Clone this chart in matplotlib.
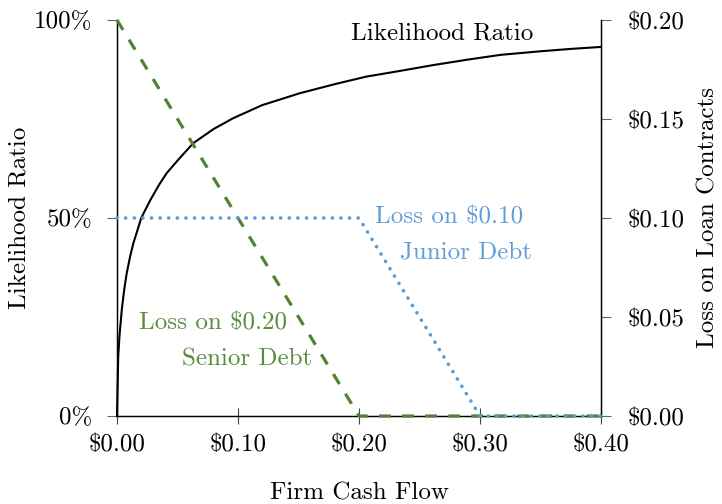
import matplotlib
matplotlib.use("Agg")
import matplotlib.pyplot as plt

plt.rcParams["font.family"] = ["cmr10", "DejaVu Serif"]
plt.rcParams["mathtext.fontset"] = "cm"
plt.rcParams["axes.unicode_minus"] = False
plt.rcParams["lines.scale_dashes"] = False

# Firm cash flow grid and likelihood ratio curve
cash_flow = [0, 0.001, 0.002, 0.004, 0.006, 0.008, 0.011, 0.0135, 0.017, 0.020,
             0.0275, 0.035, 0.041, 0.05, 0.063, 0.08, 0.096, 0.12, 0.151, 0.18,
             0.206, 0.235, 0.261, 0.29, 0.317, 0.35, 0.375, 0.40]
likelihood = [0, 0.15, 0.20, 0.27, 0.32, 0.36, 0.405, 0.436, 0.47, 0.50,
              0.545, 0.585, 0.613, 0.645, 0.689, 0.725, 0.752, 0.785, 0.815, 0.838,
              0.857, 0.872, 0.886, 0.90, 0.912, 0.921, 0.927, 0.932]

# Loss on the loan contracts
senior_x = [0.0, 0.2, 0.4]
senior_loss = [0.20, 0.0, 0.0]
junior_x = [0.0, 0.2, 0.3, 0.4]
junior_loss = [0.10, 0.10, 0.0, 0.0]

x_ticks = [0.0, 0.1, 0.2, 0.3, 0.4]
x_labels = [r"\$0.00", r"\$0.10", r"\$0.20", r"\$0.30", r"\$0.40"]
left_ticks = [0.0, 0.5, 1.0]
left_labels = ["0%", "50%", "100%"]
right_ticks = [0.0, 0.05, 0.10, 0.15, 0.20]
right_labels = [r"\$0.00", r"\$0.05", r"\$0.10", r"\$0.15", r"\$0.20"]

GREEN = "#548235"
GREEN_TEXT = "#5b8c3d"
BLUE = "#5b9bd5"
BLUE_TEXT = "#5f9fd8"
FS = 18

fig = plt.figure(figsize=(7.22, 5.04), dpi=100)
ax = fig.add_axes([117 / 722, 1 - 416 / 504, 484 / 722, 396 / 504])
ax2 = ax.twinx()

ax.plot(cash_flow, likelihood, color="black", lw=1.5, clip_on=False, zorder=3)
ax.set_xlim(0, 0.4)
ax.set_ylim(0, 1)

ax2.plot(senior_x, senior_loss, color=GREEN, lw=2.3, linestyle=(0, (8.4, 8.2)),
         dash_capstyle="butt", clip_on=False, zorder=3)
ax2.plot(junior_x, junior_loss, color=BLUE, lw=2.6, linestyle=(0, (0.1, 6.1)),
         dash_capstyle="round", clip_on=False, zorder=4)
ax2.set_ylim(0, 0.2)

for a in (ax, ax2):
    a.spines["top"].set_visible(False)
    for s in ("left", "right", "bottom"):
        a.spines[s].set_linewidth(0.9)

ax.set_xticks(x_ticks)
ax.set_xticklabels(x_labels, fontsize=FS)
ax.set_yticks(left_ticks)
ax.set_yticklabels(left_labels, fontsize=FS)
ax2.set_yticks(right_ticks)
ax2.set_yticklabels(right_labels, fontsize=FS)

ax.tick_params(axis="x", direction="inout", length=12, width=0.8, color="#444444", pad=7)
ax.tick_params(axis="y", direction="out", length=7, width=0.8, color="#666666", pad=11)
ax2.tick_params(axis="y", direction="out", length=7, width=0.8, color="#666666", pad=12)

ax.set_xlabel("Firm Cash Flow", fontsize=FS, labelpad=19)
ax.set_ylabel("Likelihood Ratio", fontsize=FS, labelpad=2)
ax2.set_ylabel("Loss on Loan Contracts", fontsize=FS, labelpad=9)

ax.text(0.2686, 0.967, "Likelihood Ratio", fontsize=FS, ha="center", va="center")
ax2.text(0.2135, 0.1005, r"Loss on \$0.10", fontsize=FS, color=BLUE_TEXT,
         ha="left", va="center")
ax2.text(0.2335, 0.0825, "Junior Debt", fontsize=FS, color=BLUE_TEXT,
         ha="left", va="center")
ax2.text(0.0185, 0.047, r"Loss on \$0.20", fontsize=FS, color=GREEN_TEXT,
         ha="left", va="center")
ax2.text(0.0540, 0.0285, "Senior Debt", fontsize=FS, color=GREEN_TEXT,
         ha="left", va="center")

fig.savefig("out.png", dpi=100)
